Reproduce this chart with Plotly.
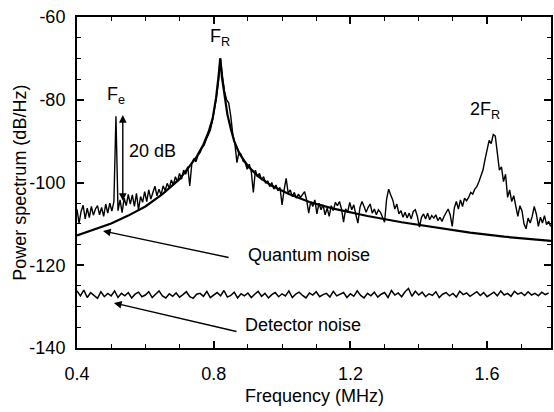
import numpy as np
import plotly.graph_objects as go

# ---------------- data ----------------
# measured spectrum, sampled every 0.006 MHz from 0.400 MHz
meas_start = 0.400
meas_step = 0.006
measured_db = [
    -106.5, -109.8, -107.0, -105.5, -108.8, -106.2, -108.5, -105.8, -107.9, -106.4,
    -105.6, -107.8, -106.0, -108.2, -105.2, -107.4, -105.0, -106.9, -104.6, -84.0,
    -106.8, -104.2, -107.3, -103.8, -105.6, -102.9, -105.2, -103.0, -105.8, -102.6,
    -106.6, -103.4, -104.8, -102.2, -104.6, -101.8, -104.0, -102.6, -100.9, -103.2,
    -101.6, -103.0, -100.8, -102.0, -100.2, -101.4, -99.4, -100.6, -98.6, -99.8,
    -97.8, -99.2, -97.0, -98.0, -96.2, -100.8, -95.4, -94.2, -95.0, -93.4,
    -92.8, -91.6, -91.0, -89.6, -88.6, -87.4, -85.2, -82.6, -79.5, -75.5,
    -70.0, -74.5, -78.2, -80.0, -80.8, -84.0, -88.5, -90.6, -95.2, -92.6,
    -93.2, -94.8, -95.2, -96.8, -95.6, -97.4, -102.4, -97.0, -98.6, -97.8,
    -99.4, -98.6, -100.2, -99.6, -101.0, -100.0, -101.6, -100.6, -102.0, -101.2,
    -105.4, -101.8, -99.0, -102.6, -101.8, -103.4, -102.4, -103.8, -102.8, -103.6,
    -102.8, -102.2, -104.2, -107.4, -104.6, -105.8, -104.2, -107.6, -105.0, -106.6,
    -105.4, -107.8, -106.2, -108.2, -105.6, -106.8, -104.8, -105.6, -104.6, -106.4,
    -109.6, -106.4, -107.2, -104.8, -106.6, -105.4, -107.8, -109.8, -106.0, -104.6,
    -105.8, -107.2, -106.0, -105.2, -107.4, -106.4, -107.8, -106.6, -107.2, -108.4,
    -109.6, -104.0, -101.6, -103.0, -104.2, -106.4, -105.2, -107.6, -106.8, -108.4,
    -107.2, -108.6, -107.4, -108.8, -107.0, -106.6, -108.2, -110.8, -108.4, -107.6,
    -108.8, -107.4, -109.0, -108.0, -108.6, -107.8, -109.2, -108.4, -109.4, -108.2,
    -107.4, -106.4, -107.8, -110.6, -106.2, -104.6, -106.4, -104.2, -105.8, -103.8,
    -104.4, -103.6, -102.4, -102.8, -101.6, -101.0, -99.8, -98.6, -97.0, -94.4,
    -91.8, -89.8, -90.6, -88.4, -88.8, -93.4, -97.0, -96.2, -99.8, -98.0,
    -103.6, -101.8, -104.6, -103.2, -106.2, -108.2, -105.6, -106.8, -110.0, -111.2,
    -108.6, -109.8, -108.2, -105.8, -107.6, -110.6, -108.4, -109.8, -108.0, -110.2,
    -109.4, -110.6,
]

# quantum-noise (theory) curve
quantum_f = [0.400, 0.450, 0.500, 0.550, 0.600, 0.650, 0.700, 0.730, 0.750, 0.770,
             0.785, 0.797, 0.807, 0.814, 0.819, 0.824, 0.831, 0.840, 0.850, 0.860,
             0.875, 0.900, 0.930, 0.970, 1.020, 1.080, 1.150, 1.250, 1.350, 1.450,
             1.550, 1.650, 1.787]
quantum_db = [-112.8, -111.4, -109.9, -108.0, -105.8, -102.8, -99.2, -96.0, -93.8, -90.8,
              -87.8, -84.5, -79.5, -74.5, -70.0, -74.5, -79.0, -83.5, -87.0, -90.0,
              -93.0, -96.0, -98.5, -100.8, -102.8, -104.7, -106.3, -108.1, -109.6, -110.9,
              -112.1, -113.1, -114.1]

# detector noise, sampled every 0.010 MHz from 0.400 MHz
det_start = 0.400
det_step = 0.010
detector_db = [
    -126.2, -127.4, -126.0, -127.8, -126.6, -127.2, -128.0, -126.4, -127.6, -126.8,
    -127.4, -126.2, -127.8, -126.8, -127.4, -126.6, -127.9, -127.0, -126.5, -127.6,
    -127.2, -126.4, -127.8, -127.0, -126.2, -127.4, -127.9, -126.9, -127.5, -126.7,
    -127.7, -127.1, -126.4, -127.6, -128.0, -127.0, -126.8, -127.5, -126.3, -127.8,
    -127.2, -126.6, -127.4, -126.1, -127.7, -127.3, -126.5, -127.9, -126.9, -127.4,
    -126.7, -127.8, -127.0, -126.3, -127.5, -126.8, -127.9, -127.1, -126.6, -127.6,
    -126.9, -127.4, -126.2, -127.8, -127.0, -126.5, -127.3, -127.9, -126.7, -127.2,
    -126.4, -127.6, -127.1, -126.8, -127.7, -126.3, -127.4, -127.0, -126.6, -127.8,
    -126.9, -127.5, -126.2, -127.3, -127.9, -126.8, -127.4, -126.5, -127.7, -127.0,
    -126.6, -127.8, -126.1, -127.2, -126.7, -127.6, -126.4, -125.6, -127.5, -126.3,
    -127.2, -126.5, -127.6, -126.9, -127.3, -126.4, -127.8, -127.0, -126.6, -127.4,
    -126.8, -127.7, -126.3, -127.1, -126.7, -127.5, -126.9, -126.4, -127.3, -126.6,
    -127.6, -127.0, -126.5, -127.4, -126.2, -127.2, -126.8, -127.5, -126.3, -127.0,
    -126.6, -127.3, -126.4, -127.2, -126.8, -127.4, -126.5, -127.1, -126.7,
]

x_range = [0.4, 1.787]
y_range = [-140, -60]
x_ticks = [0.4, 0.8, 1.2, 1.6]
x_ticklabels = ["0.4", "0.8", "1.2", "1.6"]
y_ticks = [-140, -120, -100, -80, -60]
y_ticklabels = ["-140", "-120", "-100", "-80", "-60"]

# ---------------- figure ----------------
meas_f = meas_start + meas_step * np.arange(len(measured_db))
det_f = det_start + det_step * np.arange(len(detector_db))

FONT = "Liberation Sans, Arial, sans-serif"
fig = go.Figure()
fig.add_trace(go.Scatter(x=meas_f, y=measured_db, mode="lines",
                         line=dict(color="black", width=1.4), hoverinfo="skip"))
fig.add_trace(go.Scatter(x=quantum_f, y=quantum_db, mode="lines",
                         line=dict(color="black", width=2.2), hoverinfo="skip"))
fig.add_trace(go.Scatter(x=det_f, y=detector_db, mode="lines",
                         line=dict(color="black", width=1.5), hoverinfo="skip"))

axis_common = dict(
    showgrid=False, zeroline=False, showline=True, linecolor="black", linewidth=2,
    mirror="allticks", ticks="inside", ticklen=7, tickwidth=1.5, tickcolor="black",
    tickfont=dict(family=FONT, size=18, color="black"), automargin=False,
)
fig.update_xaxes(range=x_range, tickvals=x_ticks, ticktext=x_ticklabels,
                 minor=dict(dtick=0.1, tick0=0.4, ticks="inside", ticklen=4,
                            tickwidth=1.2, tickcolor="black"),
                 ticklabelstandoff=8, **axis_common)
fig.update_yaxes(range=y_range, tickvals=y_ticks, ticktext=y_ticklabels,
                 minor=dict(dtick=5, tick0=-140, ticks="inside", ticklen=4,
                            tickwidth=1.2, tickcolor="black"),
                 ticklabelstandoff=6, **axis_common)

tf = dict(family=FONT, size=18, color="black")
ann = []
# axis titles
ann.append(dict(text="Frequency (MHz)", xref="paper", yref="paper", x=0.5, y=-0.145,
                xanchor="center", yanchor="middle", showarrow=False, font=tf))
ann.append(dict(text="Power spectrum (dB/Hz)", xref="paper", yref="paper", x=-0.122, y=0.5,
                xanchor="center", yanchor="middle", textangle=-90, showarrow=False, font=tf))
# labels
ann.append(dict(text="F<sub>R</sub>", x=0.8185, y=-65.0, xref="x", yref="y",
                showarrow=False, font=tf))
ann.append(dict(text="F<sub>e</sub>", x=0.514, y=-79.0, xref="x", yref="y",
                showarrow=False, font=tf))
ann.append(dict(text="2F<sub>R</sub>", x=1.594, y=-82.5, xref="x", yref="y",
                showarrow=False, font=tf))
ann.append(dict(text="20 dB", x=0.6195, y=-92.4, xref="x", yref="y",
                showarrow=False, font=tf))
ann.append(dict(text="Quantum noise", x=1.080, y=-117.5, xref="x", yref="y",
                showarrow=False, font=tf))
ann.append(dict(text="Detector noise", x=1.061, y=-134.4, xref="x", yref="y",
                showarrow=False, font=tf))
# arrows
arrow_style = dict(showarrow=True, arrowhead=2, arrowsize=1.1, arrowwidth=1.4,
                   arrowcolor="black", text="", xref="x", yref="y", axref="x", ayref="y")
ann.append(dict(x=0.476, y=-111.7, ax=0.848, ay=-118.2, **arrow_style))
ann.append(dict(x=0.508, y=-129.1, ax=0.871, ay=-136.1, **arrow_style))
ann.append(dict(x=0.534, y=-83.7, ax=0.534, ay=-104.8, arrowside="end+start", **arrow_style))

fig.update_layout(
    width=554, height=412,
    margin=dict(l=77, r=3, t=17, b=64),
    paper_bgcolor="white", plot_bgcolor="white",
    showlegend=False, annotations=ann,
    font=dict(family=FONT, color="black"),
)

fig.write_html("out.html",
               config={"displayModeBar": False},
               post_script="document.body.style.margin='0';"
                           "document.body.style.overflow='hidden';")
